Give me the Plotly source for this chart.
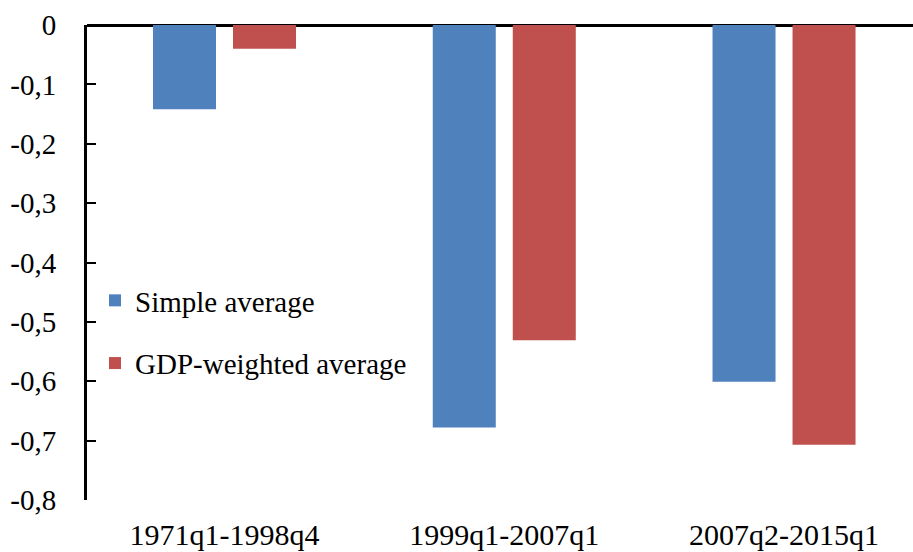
import plotly.graph_objects as go

categories = ["1971q1-1998q4", "1999q1-2007q1", "2007q2-2015q1"]
simple_avg = [-0.142, -0.678, -0.601]
gdp_weighted = [-0.040, -0.531, -0.707]
ytick_vals = [0, -0.1, -0.2, -0.3, -0.4, -0.5, -0.6, -0.7, -0.8]
ytick_text = ["0", "-0,1", "-0,2", "-0,3", "-0,4", "-0,5", "-0,6", "-0,7", "-0,8"]

FONT = "Liberation Serif"
fig = go.Figure()
fig.add_trace(go.Bar(x=list(range(len(categories))), y=simple_avg, name="Simple average",
                     marker=dict(color="#4F81BD", line=dict(width=0)), legendgroup="a"))
fig.add_trace(go.Bar(x=list(range(len(categories))), y=gdp_weighted, name="GDP-weighted average",
                     marker=dict(color="#C0504D", line=dict(width=0)), legendgroup="b"))

fig.update_layout(
    width=913, height=552,
    margin=dict(l=87, r=0, t=25, b=52, autoexpand=False),
    plot_bgcolor="white", paper_bgcolor="white",
    barmode="group", bargap=0.428, bargroupgap=0.2125,
    font=dict(family=FONT, size=29, color="black"),
    showlegend=True,
    legend=dict(x=0.0097, y=0.4737, xanchor="left", yanchor="top",
                bgcolor="rgba(0,0,0,0)", tracegroupgap=22,
                font=dict(family=FONT, size=29)),
    xaxis=dict(range=[-0.4915, 2.461], tickvals=list(range(len(categories))),
               ticktext=categories, showline=False, showgrid=False, zeroline=False,
               ticks="", fixedrange=True, automargin=False, ticklabelstandoff=14,
               tickfont=dict(size=30)),
    yaxis=dict(range=[-0.8, 0], tickvals=ytick_vals, ticktext=ytick_text,
               showline=True, linewidth=3, linecolor="black",
               ticks="inside", ticklen=9, tickwidth=2, tickcolor="black",
               showgrid=False, zeroline=True, zerolinewidth=3, zerolinecolor="black",
               ticklabelstandoff=22, automargin=False, fixedrange=True),
)
fig.write_html("out.html", config={"displayModeBar": False},
               post_script="document.body.style.margin='0';document.body.style.overflow='hidden';")
